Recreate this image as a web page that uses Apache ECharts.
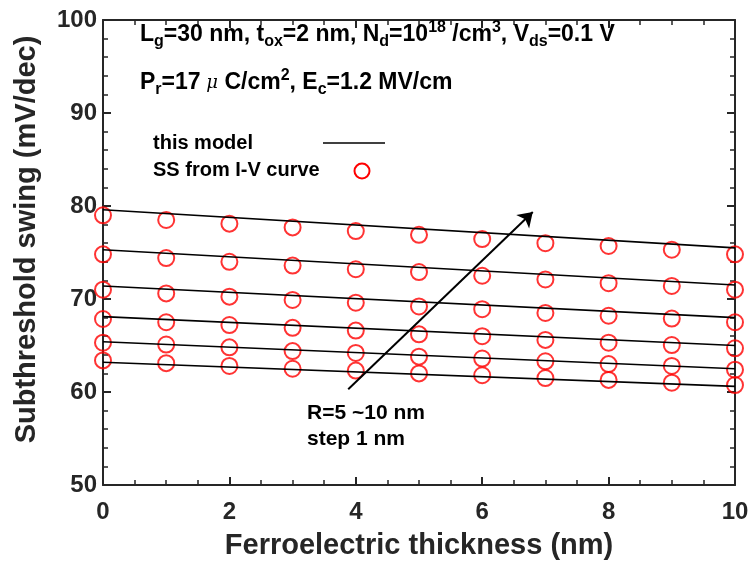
<!DOCTYPE html>
<html>
<head>
<meta charset="utf-8">
<script src="https://cdn.jsdelivr.net/npm/echarts@6/dist/echarts.min.js"></script>
<style>
  html, body { margin: 0; padding: 0; background: #fff; }
  #chart { width: 755px; height: 565px; }
</style>
</head>
<body>
<div id="chart"></div>
<script>
var FONT = '"Liberation Sans", Arial, sans-serif';
var INK = '#262626';

// ferroelectric thickness (nm)
var thickness = [0, 1, 2, 3, 4, 5, 6, 7, 8, 9, 10];
// SS from I-V curve, one array per R (nm)
var ssR5  = [63.4, 63.1, 62.8, 62.5, 62.3, 62.0, 61.8, 61.5, 61.3, 61.0, 60.75];
var ssR6  = [65.3, 65.1, 64.8, 64.4, 64.2, 63.8, 63.6, 63.3, 63.0, 62.8, 62.4];
var ssR7  = [67.85, 67.5, 67.2, 66.9, 66.6, 66.2, 66.0, 65.6, 65.3, 65.05, 64.7];
var ssR8  = [71.0, 70.6, 70.25, 69.9, 69.6, 69.2, 68.9, 68.5, 68.2, 67.9, 67.5];
var ssR9  = [74.8, 74.4, 74.0, 73.6, 73.2, 72.9, 72.5, 72.1, 71.7, 71.4, 71.0];
var ssR10 = [79.0, 78.5, 78.1, 77.7, 77.3, 76.9, 76.45, 76.0, 75.7, 75.3, 74.8];
// model lines (straight), value at 0 nm and at 10 nm, R = 5..10
var modelEnds = [0, 10];
var modelAt0  = [63.2, 65.4, 68.1, 71.4, 75.3, 79.6];
var modelAt10 = [60.6, 62.5, 65.0, 68.0, 71.5, 75.5];
// arrow "R=5 ~10 nm" from -> to (nm, mV/dec)
var arrowFrom = [3.88, 60.3];
var arrowTo = [6.8, 79.35];

var xTicks = { min: 0, max: 10, interval: 2 };
var yTicks = { min: 50, max: 100, interval: 10 };

var ssSets = [ssR5, ssR6, ssR7, ssR8, ssR9, ssR10];

function makeAxis(pos, range, minorSplit, extra) {
    var a = {
        type: 'value',
        position: pos,
        min: range.min, max: range.max, interval: range.interval,
        axisLine: { show: true, onZero: false, lineStyle: { color: INK, width: 2 } },
        axisTick: { show: true, inside: true, length: 8, lineStyle: { color: INK, width: 2 } },
        minorTick: { show: true, splitNumber: minorSplit, length: 5, lineStyle: { color: INK, width: 1.5 } },
        splitLine: { show: false },
        minorSplitLine: { show: false },
        axisLabel: { show: false }
    };
    for (var k in extra) a[k] = extra[k];
    return a;
}

var series = [];
ssSets.forEach(function (arr) {
    series.push({
        name: 'SS from I-V curve',
        type: 'scatter',
        symbol: 'circle',
        symbolSize: 16,
        itemStyle: { color: 'rgba(0,0,0,0)', borderColor: '#ff0000', borderWidth: 2 },
        data: thickness.map(function (t, j) { return [t, arr[j]]; }),
        z: 2
    });
});
modelAt0.forEach(function (v, i) {
    series.push({
        name: 'this model',
        type: 'line',
        symbol: 'none',
        lineStyle: { color: '#000', width: 1.6 },
        data: [[modelEnds[0], v], [modelEnds[1], modelAt10[i]]],
        z: 3
    });
});
series[series.length - 1].markLine = {
    silent: true,
    symbol: ['none', 'arrow'],
    symbolSize: 14,
    label: { show: false },
    lineStyle: { color: '#000', width: 2, type: 'solid' },
    data: [[{ coord: arrowFrom }, { coord: arrowTo }]]
};

var rich = {
    n:   { fontSize: 23, fontWeight: 'bold', fontFamily: FONT, color: '#000', lineHeight: 30, verticalAlign: 'middle' },
    sub: { fontSize: 16, fontWeight: 'bold', fontFamily: FONT, color: '#000', verticalAlign: 'bottom' },
    sup: { fontSize: 16, fontWeight: 'bold', fontFamily: FONT, color: '#000', verticalAlign: 'top' },
    mu:  { fontSize: 18, fontStyle: 'italic', fontFamily: '"DejaVu Serif", serif', color: '#000', verticalAlign: 'middle' }
};

var labelStyle = { show: true, fontSize: 24, fontWeight: 'bold', color: INK, fontFamily: FONT };

var option = {
    animation: false,
    backgroundColor: '#fff',
    grid: { left: 103, right: 20, top: 20, bottom: 79 },
    xAxis: [
        makeAxis('bottom', xTicks, 4, {
            axisLabel: Object.assign({ margin: 15 }, labelStyle),
            name: 'Ferroelectric thickness (nm)',
            nameLocation: 'middle',
            nameGap: 46,
            nameTextStyle: { fontSize: 29, fontWeight: 'bold', color: INK, fontFamily: FONT }
        }),
        makeAxis('top', xTicks, 4, {})
    ],
    yAxis: [
        makeAxis('left', yTicks, 5, {
            axisLabel: Object.assign({ margin: 6 }, labelStyle),
            name: 'Subthreshold swing (mV/dec)',
            nameLocation: 'middle',
            nameGap: 62,
            nameRotate: 90,
            nameTextStyle: { fontSize: 29, fontWeight: 'bold', color: INK, fontFamily: FONT, padding: [0, 0, 0, 26] }
        }),
        makeAxis('right', yTicks, 5, {})
    ],
    graphic: [
        {
            type: 'text', left: 140, top: 20, z: 10,
            style: {
                text: '{n|L}{sub|g}{n|=30 nm, t}{sub|ox}{n|=2 nm, N}{sub|d}{n|=10}{sup|18}{n| /cm}{sup|3}{n|, V}{sub|ds}{n|=0.1 V}',
                rich: rich
            }
        },
        {
            type: 'text', left: 140, top: 68, z: 10,
            style: {
                text: '{n|P}{sub|r}{n|=17}{mu| μ}{n| C/cm}{sup|2}{n|, E}{sub|c}{n|=1.2 MV/cm}',
                rich: rich
            }
        },
        {
            type: 'text', left: 153, top: 133, z: 10,
            style: { text: 'this model', font: 'bold 20px ' + FONT, fill: '#000' }
        },
        {
            type: 'line', z: 10,
            shape: { x1: 323, y1: 143, x2: 385, y2: 143 },
            style: { stroke: '#000', lineWidth: 1.6 }
        },
        {
            type: 'text', left: 153, top: 160, z: 10,
            style: { text: 'SS from I-V curve', font: 'bold 20px ' + FONT, fill: '#000' }
        },
        {
            type: 'circle', z: 10,
            shape: { cx: 362, cy: 171, r: 7.5 },
            style: { fill: 'none', stroke: '#ff0000', lineWidth: 2 }
        },
        {
            type: 'text', left: 307, top: 400, z: 10,
            style: { text: 'R=5 ~10 nm\nstep 1 nm', font: 'bold 21px ' + FONT, fill: '#000', lineHeight: 26 }
        }
    ],
    series: series
};

var chart = echarts.init(document.getElementById('chart'));
chart.setOption(option);
</script>
</body>
</html>
